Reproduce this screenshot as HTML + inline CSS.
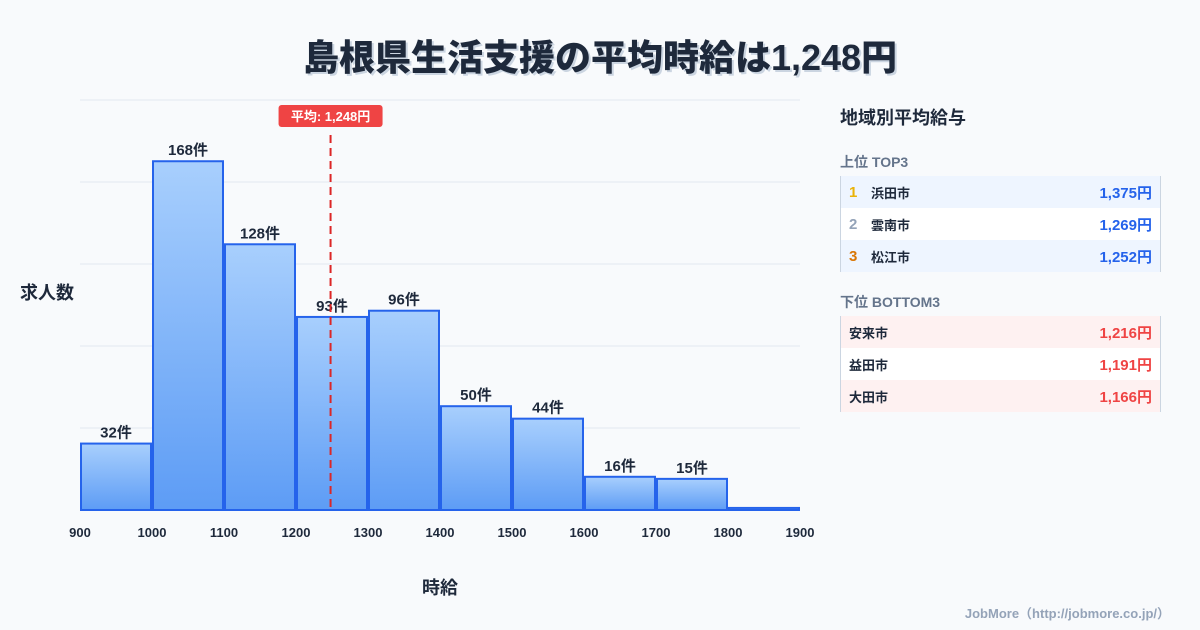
<!DOCTYPE html>
<html><head><meta charset="utf-8"><style>
body{margin:0;width:1200px;height:630px;background:#f8fafc;font-family:"Liberation Sans","Noto Sans CJK JP",sans-serif;color:#1e293b;position:relative;overflow:hidden}
.title{position:absolute;top:29px;left:0;width:1200px;text-align:center;font-size:36px;font-weight:900;color:#1e293b;text-shadow:2px 2px 0 #cbd5e1}
.panel{position:absolute;left:840px;top:100px;width:321px}
.ph{font-size:18px;font-weight:700;margin:4px 0 0}
.sh{font-size:14px;font-weight:700;color:#64748b;margin-top:20px;height:22px}
.tbl{border-left:1px solid #cbd5e1;border-right:1px solid #cbd5e1;margin-top:2px}
.row{height:32px;display:flex;align-items:center;font-size:13px;font-weight:700;padding:0 8px}
.row .v{margin-left:auto;font-size:15px}
.top .row:nth-child(odd){background:#eef5ff}.top .row:nth-child(even){background:#fff}
.bot .row:nth-child(odd){background:#fef1f1}.bot .row:nth-child(even){background:#fff}
.top .v{color:#2563eb}.bot .v{color:#ef4444}
.rk{width:22px;font-size:15px}
.foot{position:absolute;right:30px;top:603px;font-size:13px;font-weight:700;color:#94a3b8}
</style></head><body>
<div class="title">島根県生活支援の平均時給は1,248円</div>
<svg id="chart" width="820" height="630" style="position:absolute;left:0;top:0">
<defs><linearGradient id="g" x1="0" y1="0" x2="0" y2="1"><stop offset="0" stop-color="#a8cffd"/><stop offset="1" stop-color="#5d9cf5"/></linearGradient></defs>
</svg>
<div class="panel">
<div class="ph">地域別平均給与</div>
<div class="sh" style="margin-top:22px">上位 TOP3</div>
<div class="tbl top">
<div class="row"><span class="rk" style="color:#eab308">1</span>浜田市<span class="v">1,375円</span></div>
<div class="row"><span class="rk" style="color:#94a3b8">2</span>雲南市<span class="v">1,269円</span></div>
<div class="row"><span class="rk" style="color:#d97706">3</span>松江市<span class="v">1,252円</span></div>
</div>
<div class="sh">下位 BOTTOM3</div>
<div class="tbl bot">
<div class="row">安来市<span class="v">1,216円</span></div>
<div class="row">益田市<span class="v">1,191円</span></div>
<div class="row">大田市<span class="v">1,166円</span></div>
</div>
</div>
<div class="foot">JobMore（http://jobmore.co.jp/）</div>
<script>
const binStarts=[900,1000,1100,1200,1300,1400,1500,1600,1700,1800];
const counts=[32,168,128,93,96,50,44,16,15,1];
const xTicks=[900,1000,1100,1200,1300,1400,1500,1600,1700,1800,1900];
const meanValue=1248;
const yMax=197.5;
const NS="http://www.w3.org/2000/svg";
const svg=document.getElementById('chart');
const X0=80,X1=800,Y0=510,Y1=100;
const x=v=>X0+(v-900)/(1900-900)*(X1-X0);
const y=v=>Y0-v/yMax*(Y0-Y1);
function mk(t,a,p){const e=document.createElementNS(NS,t);for(const k in a)e.setAttribute(k,a[k]);(p||svg).appendChild(e);return e;}
for(let i=0;i<=5;i++){const gy=Y0-i*(Y0-Y1)/5;
const l=mk('line',{x1:X0,x2:X1,y1:gy,y2:gy,stroke:'#e2e8f0','stroke-width':1});

}
binStarts.forEach((b,i)=>{const c=counts[i];const x0=x(b)+1,x1=x(b+100)-1;
const r=mk('rect',{x:x0,y:y(c),width:x1-x0,height:Y0-y(c),fill:'url(#g)',stroke:'#2563eb','stroke-width':2});


if(c>=5){const t=mk('text',{x:(x0+x1)/2,y:y(c)-6,'text-anchor':'middle','font-size':15,'font-weight':700,fill:'#1e293b'});t.textContent=c+'件';

}});
xTicks.forEach(v=>{const t=mk('text',{x:x(v),y:537,'text-anchor':'middle','font-size':13,'font-weight':700,fill:'#1e293b'});t.textContent=v;

});
const mx=x(meanValue);
const ml=mk('line',{x1:mx,x2:mx,y1:135,y2:Y0,stroke:'#dc2626','stroke-width':2,'stroke-dasharray':'8,5'});


const mb=mk('rect',{x:mx-52,y:105,width:104,height:22,rx:3,fill:'#ef4444'});


const mt=mk('text',{x:mx,y:121,'text-anchor':'middle','font-size':13,'font-weight':700,fill:'#fff'});mt.textContent='平均: 1,248円';


const yt=mk('text',{x:20,y:299,'font-size':18,'font-weight':700,fill:'#1e293b'});yt.textContent='求人数';


const xt=mk('text',{x:440,y:594,'text-anchor':'middle','font-size':18,'font-weight':700,fill:'#1e293b'});xt.textContent='時給';


</script>
</body></html>
